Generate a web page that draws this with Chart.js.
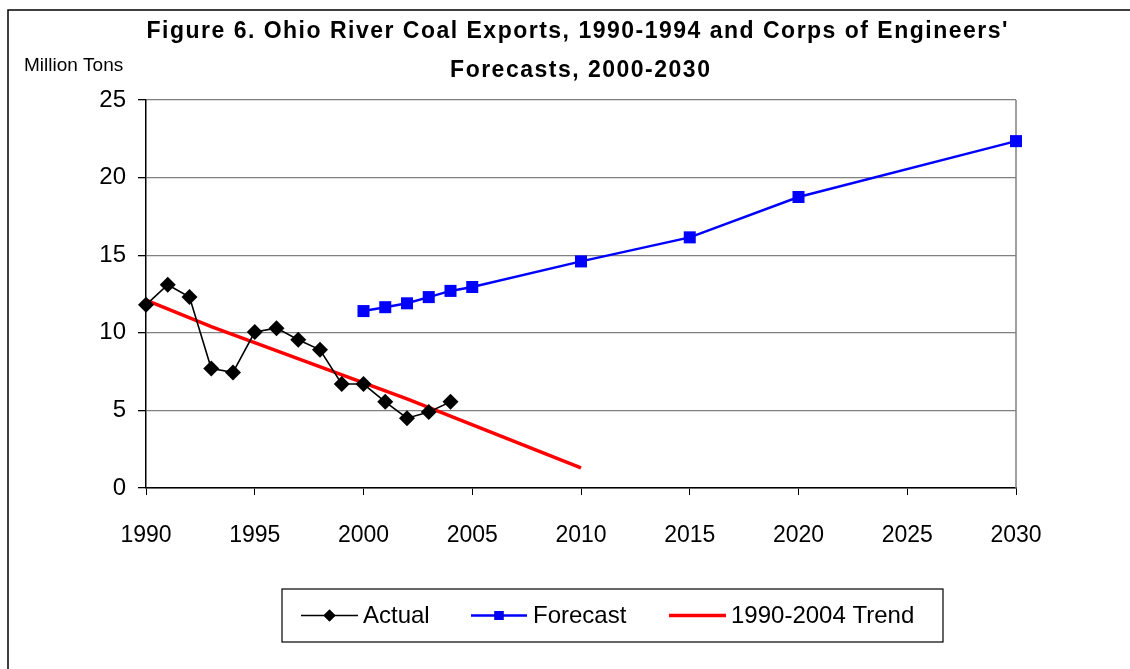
<!DOCTYPE html>
<html lang="en">
<head>
    <meta charset="UTF-8">
    <title>Ohio River Coal Exports</title>
    <script src="https://cdn.jsdelivr.net/npm/chart.js"></script>
    <style>
        html, body { margin: 0; padding: 0; background: #fff; }
        #wrap { width: 1130px; height: 669px; }
    </style>
</head>
<body>
    <div id="wrap"><canvas id="coalChart"></canvas></div>

    <script>
        // Data
        const actualYears = [1990, 1991, 1992, 1993, 1994, 1995, 1996, 1997, 1998, 1999, 2000, 2001, 2002, 2003, 2004];
        const actualValues = [11.8, 13.1, 12.3, 7.7, 7.45, 10.05, 10.3, 9.55, 8.9, 6.7, 6.7, 5.55, 4.5, 4.9, 5.55];

        const forecastYears = [2000, 2001, 2002, 2003, 2004, 2005, 2010, 2015, 2020, 2030];
        const forecastValues = [11.4, 11.65, 11.9, 12.3, 12.7, 12.95, 14.6, 16.15, 18.75, 22.35];

        const trendYears = [1990, 1993, 2002, 2010];
        const trendValues = [12.1, 10.4, 5.75, 1.3];

        const xTicks = [1990, 1995, 2000, 2005, 2010, 2015, 2020, 2025, 2030];
        const yTicks = [0, 5, 10, 15, 20, 25];

        const titleLines = ["Figure 6. Ohio River Coal Exports, 1990-1994 and Corps of Engineers'", "Forecasts, 2000-2030"];
        const yUnit = 'Million Tons';

        function toPoints(xs, ys) {
            return xs.map((x, i) => ({ x: x, y: ys[i] }));
        }

        const FONT = '"Liberation Sans", Arial, sans-serif';

        // frame, title, unit label, plot border and legend
        const decorations = {
            id: 'decorations',
            beforeDraw(chart) {
                const ctx = chart.ctx;
                ctx.save();
                ctx.fillStyle = '#fff';
                ctx.fillRect(0, 0, chart.width, chart.height);
                ctx.strokeStyle = '#000';
                ctx.lineWidth = 1.5;
                ctx.strokeRect(8, 10, 1200, 800);
                ctx.restore();
            },
            beforeDatasetsDraw(chart) {
                const ctx = chart.ctx;
                const a = chart.chartArea;
                ctx.save();
                ctx.strokeStyle = '#808080';
                ctx.lineWidth = 1.5;
                ctx.beginPath();
                ctx.moveTo(a.right, a.top);
                ctx.lineTo(a.right, a.bottom);
                ctx.stroke();
                ctx.restore();
            },
            afterDraw(chart) {
                const ctx = chart.ctx;
                ctx.save();
                ctx.fillStyle = '#000';

                // title, spaced out to the width of the original
                ctx.font = 'bold 23px ' + FONT;
                ctx.textAlign = 'left';
                ctx.textBaseline = 'alphabetic';
                const target = 861;
                const w0 = ctx.measureText(titleLines[0]).width;
                const spacing = (target - w0) / (titleLines[0].length - 1);
                const drawSpaced = (text, cx, y) => {
                    let total = 0;
                    for (const ch of text) total += ctx.measureText(ch).width + spacing;
                    total -= spacing;
                    let x = cx - total / 2;
                    for (const ch of text) {
                        ctx.fillText(ch, x, y);
                        x += ctx.measureText(ch).width + spacing;
                    }
                };
                drawSpaced(titleLines[0], 577, 38);
                drawSpaced(titleLines[1], 580, 77);

                // unit label
                ctx.font = '19px ' + FONT;
                ctx.textBaseline = 'middle';
                ctx.fillText(yUnit, 24, 66);

                // legend
                const box = { x: 282, y: 589, w: 661, h: 53 };
                ctx.strokeStyle = '#000';
                ctx.lineWidth = 1.2;
                ctx.strokeRect(box.x, box.y, box.w, box.h);
                const cy = box.y + box.h / 2;
                const items = [
                    { x0: 301, x1: 358, tx: 363 },
                    { x0: 471, x1: 527, tx: 533 },
                    { x0: 669, x1: 726, tx: 731 }
                ];
                chart.data.datasets.forEach((ds, i) => {
                    const it = items[i];
                    ctx.strokeStyle = ds.borderColor;
                    ctx.lineWidth = ds.borderWidth;
                    ctx.beginPath();
                    ctx.moveTo(it.x0, cy);
                    ctx.lineTo(it.x1, cy);
                    ctx.stroke();
                    if (ds.pointRadius > 0) {
                        Chart.helpers.drawPoint(ctx, {
                            pointStyle: ds.pointStyle,
                            radius: ds.pointRadius * 0.75,
                            borderWidth: 0
                        }, (it.x0 + it.x1) / 2, cy);
                        ctx.fillStyle = ds.pointBackgroundColor;
                        ctx.fill();
                    }
                    ctx.fillStyle = '#000';
                    ctx.font = '24px ' + FONT;
                    ctx.textBaseline = 'middle';
                    ctx.fillText(ds.label, it.tx, cy + 1);
                });
                ctx.restore();
            }
        };

        const ctx = document.getElementById('coalChart').getContext('2d');
        new Chart(ctx, {
            type: 'line',
            data: {
                datasets: [
                    {
                        label: 'Actual',
                        data: toPoints(actualYears, actualValues),
                        borderColor: '#000000',
                        borderWidth: 1.6,
                        pointStyle: 'rectRot',
                        pointRadius: 8,
                        pointBackgroundColor: '#000000',
                        pointBorderWidth: 0,
                        tension: 0,
                        clip: false
                    },
                    {
                        label: 'Forecast',
                        data: toPoints(forecastYears, forecastValues),
                        borderColor: '#0000FF',
                        borderWidth: 2.5,
                        pointStyle: 'rect',
                        pointRadius: 8.5,
                        pointBackgroundColor: '#0000FF',
                        pointBorderWidth: 0,
                        tension: 0,
                        clip: false
                    },
                    {
                        label: '1990-2004 Trend',
                        data: toPoints(trendYears, trendValues),
                        borderColor: '#FF0000',
                        borderWidth: 3.5,
                        pointRadius: 0,
                        tension: 0,
                        clip: false
                    }
                ]
            },
            options: {
                responsive: true,
                maintainAspectRatio: false,
                animation: false,
                layout: { padding: { top: 100, right: 114, left: 0, bottom: 0 } },
                plugins: {
                    legend: { display: false },
                    title: { display: false },
                    tooltip: { enabled: false }
                },
                scales: {
                    x: {
                        type: 'linear',
                        min: 1990,
                        max: 2030,
                        afterFit(scale) { scale.height = 181; },
                        afterBuildTicks(scale) { scale.ticks = xTicks.map(v => ({ value: v })); },
                        ticks: {
                            color: '#000',
                            font: { family: FONT, size: 23 },
                            padding: 27,
                            maxRotation: 0,
                            callback: v => String(v)
                        },
                        grid: { drawOnChartArea: false, drawTicks: true, tickLength: 7, color: '#000' },
                        border: { color: '#000', width: 1.5 }
                    },
                    y: {
                        min: 0,
                        max: 25,
                        afterFit(scale) { scale.width = 146; },
                        afterBuildTicks(scale) { scale.ticks = yTicks.map(v => ({ value: v })); },
                        ticks: {
                            color: '#000',
                            font: { family: FONT, size: 24 },
                            padding: 12
                        },
                        grid: { color: '#808080', lineWidth: 1.3, tickLength: 8, tickColor: '#000' },
                        border: { color: '#000', width: 1.5 }
                    }
                }
            },
            plugins: [decorations]
        });
    </script>
</body>
</html>
